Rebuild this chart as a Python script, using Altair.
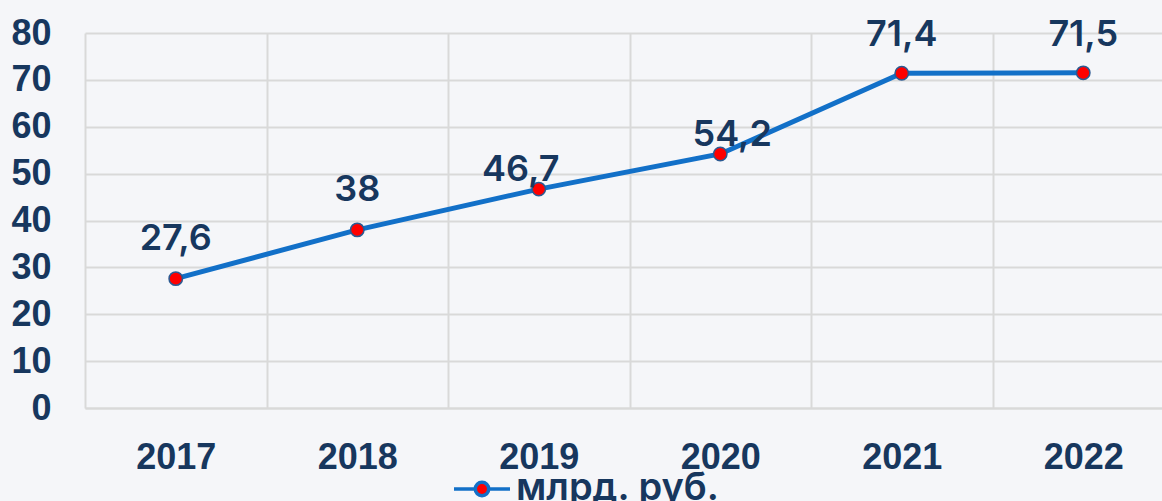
import altair as alt
import pandas as pd

years = ["2017", "2018", "2019", "2020", "2021", "2022"]
values = [27.6, 38, 46.7, 54.2, 71.4, 71.5]
labels = ["27,6", "38", "46,7", "54,2", "71,4", "71,5"]
label_dx = [0, 0, -18, 12, 0, 0]
label_dy = [-29, -29, -8, -8, -27, -27]
series_name = "млрд. руб."

df = pd.DataFrame({
    "year": years,
    "value": values,
    "label": labels,
    "series": [series_name] * len(years),
})

NAVY = "#17375e"
BLUE = "#1270c8"
GRID = "#d9d9d9"

x_enc = alt.X(
    "year:O",
    bandPosition=0.5,
    scale=alt.Scale(type="band", paddingInner=0, paddingOuter=0, range=[0, 1089]),
    axis=alt.Axis(
        title=None, labelAngle=0, tickBand="extent", grid=True, ticks=False,
        domain=True, domainColor=GRID, domainWidth=2, gridColor=GRID, gridWidth=2,
        labelPadding=32, labelFont="Liberation Sans", labelFontWeight="bold",
        labelFontSize=36, labelColor=NAVY,
    ),
)
y_enc = alt.Y(
    "value:Q",
    scale=alt.Scale(domain=[0, 80], nice=False),
    axis=alt.Axis(
        title=None, values=list(range(0, 90, 10)), ticks=False, domain=False,
        gridColor=GRID, gridWidth=2, labelPadding=34, labelFont="Liberation Sans",
        labelFontWeight="bold", labelFontSize=36, labelColor=NAVY,
    ),
)

legend_path = ("M-1,0H-0.24M0.24,0H1"
               "M0.24,0A0.24,0.24 0 1,1 -0.24,0A0.24,0.24 0 1,1 0.24,0Z")

base = alt.Chart(df)

line = base.mark_line(strokeWidth=5).encode(
    x=x_enc,
    y=y_enc,
    color=alt.Color(
        "series:N",
        scale=alt.Scale(range=[BLUE]),
        legend=alt.Legend(
            title=None, orient="none", legendX=367, legendY=426,
            symbolType=legend_path, symbolSize=3136, symbolStrokeWidth=3.5,
            symbolFillColor="#ff0000", symbolStrokeColor=BLUE,
            labelFont="Inter", labelFontWeight=600, labelFontSize=38,
            labelColor=NAVY, labelOffset=4, labelLimit=400,
        ),
    ),
)

points = base.mark_point(
    shape="circle", filled=True, fill="#ff0000", stroke="#2b5a92",
    strokeWidth=1.5, size=180, opacity=1,
).encode(x=x_enc, y=y_enc)

text_layers = []
for lab, ddx, ddy in zip(labels, label_dx, label_dy):
    text_layers.append(
        base.transform_filter(alt.datum.label == lab).mark_text(
            font="Inter", fontWeight=600, fontSize=36, color=NAVY,
            align="center", baseline="alphabetic", dx=ddx, dy=ddy,
        ).encode(x=x_enc, y=y_enc, text="label:N")
    )

chart = alt.layer(line, points, *text_layers).properties(
    width=1077,
    height=375,
    background="#f5f6f9",
    padding={"left": 85, "top": 33, "right": 0, "bottom": 93},
    autosize=alt.AutoSizeParams(type="none"),
).configure_view(stroke=None)

chart.save("out.html", embed_options={"renderer": "svg", "actions": False})
